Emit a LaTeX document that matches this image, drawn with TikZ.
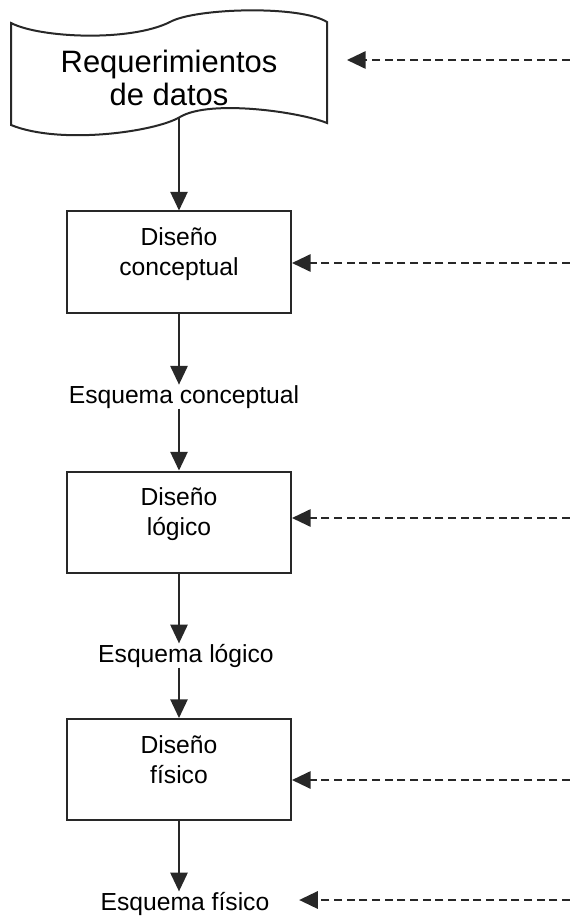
\documentclass[tikz,border=0pt]{standalone}
\usepackage{fontspec}
\setmainfont{Liberation Sans}
\usetikzlibrary{arrows.meta}

\definecolor{inkgray}{RGB}{40,40,40}

\tikzset{every picture/.style={line width=0.75pt}}
\tikzset{
  stage/.style={draw=inkgray, line width=1.5pt, minimum width=168pt, minimum height=75.75pt, inner sep=0pt},
  stagetext/.style={anchor=north, align=center, inner sep=0pt, font=\fontsize{18.5}{22.5}\selectfont},
  schema/.style={anchor=base, inner sep=0pt, font=\fontsize{18.5}{22.5}\selectfont},
  flow/.style={draw=inkgray, line width=1.1pt, -{Triangle[length=14pt,width=13pt]}},
  feedback/.style={draw=inkgray, line width=1.5pt, dash pattern=on 6pt off 3.5pt, -{Triangle[length=14pt,width=13pt]}}
}

\begin{document}
\begin{tikzpicture}[x=0.75pt,y=0.75pt,yscale=-1,xscale=1]
\useasboundingbox (0,0) rectangle (570,916); %set diagram to 570 x 916

%Punched Tape [requirements]
\draw [inkgray, line width=1.5pt] (11,23) .. controls (40,38) and (130,42) .. (170,22) .. controls (195,8) and (300,5) .. (327,22) -- (327,123) .. controls (300,112) and (210,99) .. (180,117) .. controls (155,132) and (60,145) .. (11,125) -- cycle ;
% Text Node
\node [anchor=north, align=center, inner sep=0pt, font=\fontsize{23.2}{24.75}\selectfont] (req) at (169,50) {Requerimientos\\de datos};
\coordinate (reqout) at (179,117);
\coordinate (reqedge) at (327,60);

%Stages
\node [stage] (box1) at (179,262) {};
\node [stagetext] (box1txt) at ([yshift=12.5pt]box1.north) {Diseño\\conceptual};
\node [stage] (box2) at (179,522) {};
\node [stagetext] (box2txt) at ([yshift=12.5pt]box2.north) {Diseño\\lógico};
\node [stage] (box3) at (179,769.5) {};
\node [stagetext] (box3txt) at ([yshift=12.5pt]box3.north) {Diseño\\físico};

% Text Node
\node [schema] (esq1) at (184,403) {Esquema conceptual};
\node [schema] (esq2) at (186,662) {Esquema lógico};
\node [schema] (esq3) at (185,910) {Esquema físico};

%Straight Lines
\draw [flow] (reqout) -- (box1.north);
\draw [flow] (box1.south) -- (box1.south |- esq1.north);
\draw [flow] (esq1.south -| box2.north) -- (box2.north);
\draw [flow] (box2.south) -- (box2.south |- esq2.north);
\draw [flow] (esq2.south -| box3.north) -- (box3.north);
\draw [flow] (box3.south) -- (box3.south |- esq3.north);

%Dashed Lines
\coordinate (src0) at (570,60);
\coordinate (src1) at (570,263);
\coordinate (src2) at (570,518);
\coordinate (src3) at (570,780);
\coordinate (src4) at (570,900);
\draw [feedback] (src0) -- ([xshift=15pt]reqedge);
\draw [feedback] (src1) -- (box1.east |- src1);
\draw [feedback] (src2) -- (box2.east |- src2);
\draw [feedback] (src3) -- (box3.east |- src3);
\draw [feedback] (src4) -- ([xshift=22pt]esq3.east |- src4);

\end{tikzpicture}
\end{document}
